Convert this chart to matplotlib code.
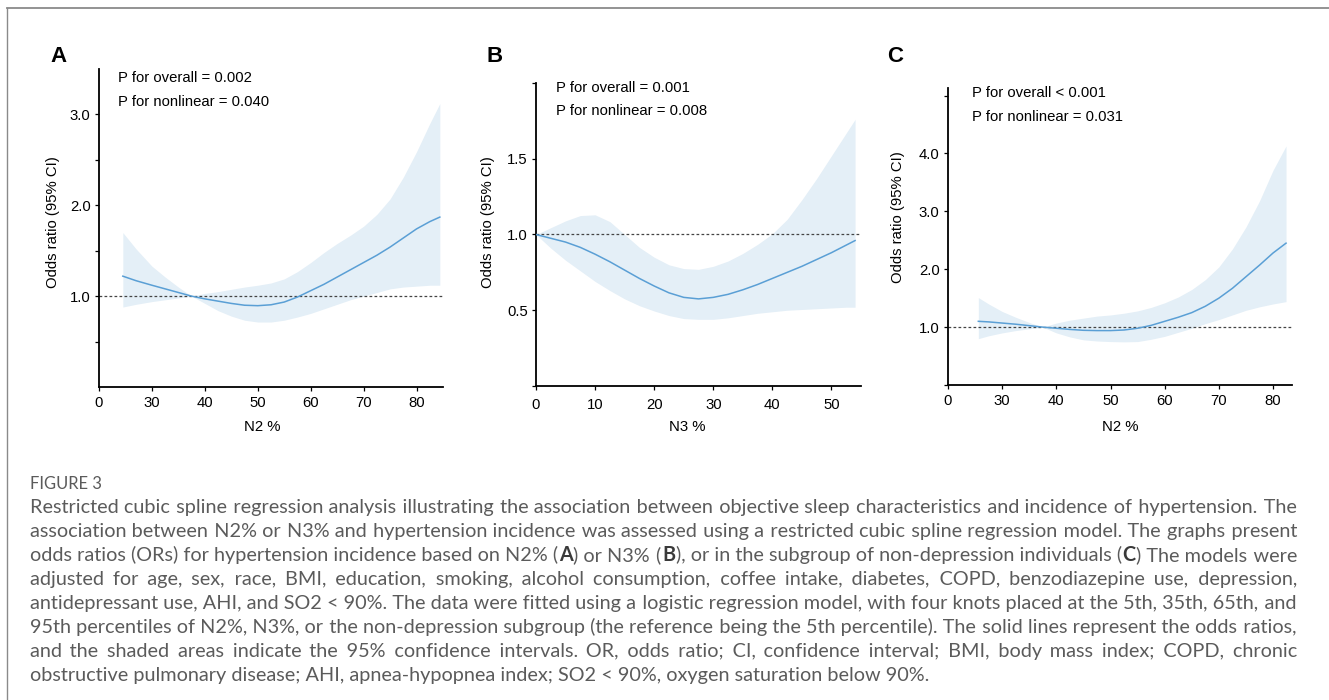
import matplotlib
matplotlib.use('Agg')
import matplotlib.pyplot as plt
from matplotlib.lines import Line2D

# ---------------- data ----------------
a_x  = [24.5, 27, 30, 32.5, 35, 37.5, 40, 42.5, 45, 47.5, 50, 52.5, 55, 57.5, 60,
        62.5, 65, 67.5, 70, 72.5, 75, 77.5, 80, 82.5, 84.4]
a_or = [1.22, 1.17, 1.12, 1.08, 1.04, 1.00, 0.97, 0.945, 0.92, 0.90, 0.895, 0.905, 0.935, 0.99, 1.06,
        1.13, 1.21, 1.29, 1.37, 1.45, 1.54, 1.64, 1.74, 1.82, 1.87]
a_lo = [0.88, 0.91, 0.94, 0.96, 0.98, 1.00, 0.92, 0.84, 0.78, 0.735, 0.715, 0.715, 0.735, 0.77, 0.81,
        0.86, 0.91, 0.96, 1.00, 1.04, 1.08, 1.10, 1.11, 1.12, 1.12]
a_hi = [1.70, 1.52, 1.33, 1.21, 1.10, 1.00, 1.03, 1.05, 1.075, 1.10, 1.12, 1.145, 1.19, 1.27, 1.37,
        1.48, 1.58, 1.67, 1.77, 1.90, 2.07, 2.31, 2.59, 2.90, 3.12]

b_x  = [0, 2.5, 5, 7.5, 10, 12.5, 15, 17.5, 20, 22.5, 25, 27.5, 30, 32.5, 35, 37.5,
        40, 42.5, 45, 47.5, 50, 52.5, 54]
b_or = [1.0, 0.975, 0.95, 0.915, 0.87, 0.82, 0.765, 0.71, 0.66, 0.615, 0.585, 0.575, 0.585, 0.605, 0.635, 0.67,
        0.71, 0.75, 0.79, 0.835, 0.88, 0.93, 0.96]
b_lo = [1.0, 0.91, 0.83, 0.76, 0.69, 0.63, 0.575, 0.53, 0.495, 0.465, 0.445, 0.44, 0.44, 0.45, 0.465, 0.48,
        0.49, 0.50, 0.505, 0.51, 0.515, 0.52, 0.52]
b_hi = [1.0, 1.045, 1.09, 1.125, 1.13, 1.085, 1.00, 0.915, 0.85, 0.80, 0.775, 0.77, 0.79, 0.825, 0.875, 0.935,
        1.005, 1.10, 1.23, 1.37, 1.52, 1.67, 1.76]

c_x  = [25.6, 27.5, 30, 32.5, 35, 37.5, 40, 42.5, 45, 47.5, 50, 52.5, 55, 57.5, 60,
        62.5, 65, 67.5, 70, 72.5, 75, 77.5, 80, 82.4]
c_or = [1.10, 1.09, 1.07, 1.05, 1.025, 1.00, 0.98, 0.96, 0.945, 0.94, 0.94, 0.95, 0.98, 1.03, 1.10,
        1.17, 1.25, 1.36, 1.50, 1.67, 1.87, 2.07, 2.28, 2.45]
c_lo = [0.80, 0.85, 0.90, 0.94, 0.97, 1.00, 0.90, 0.83, 0.78, 0.76, 0.75, 0.745, 0.75, 0.79, 0.84,
        0.91, 0.98, 1.06, 1.13, 1.21, 1.29, 1.35, 1.40, 1.44]
c_hi = [1.51, 1.40, 1.27, 1.17, 1.08, 1.00, 1.07, 1.12, 1.155, 1.19, 1.21, 1.24, 1.28, 1.34, 1.42,
        1.52, 1.65, 1.82, 2.04, 2.35, 2.73, 3.18, 3.71, 4.13]

a_xticks = [20, 30, 40, 50, 60, 70, 80]
a_xticklabels = ['0', '30', '40', '50', '60', '70', '80']
a_yticks = [0.5, 1.0, 1.5, 2.0, 2.5, 3.0]
a_yticklabels = ['', '1.0', '', '2.0', '', '3.0']

b_xticks = [0, 10, 20, 30, 40, 50]
b_xticklabels = ['0', '10', '20', '30', '40', '50']
b_yticks = [0.0, 0.5, 1.0, 1.5, 2.0]
b_yticklabels = ['', '0.5', '1.0', '1.5', '']

c_xticks = [20, 30, 40, 50, 60, 70, 80]
c_xticklabels = ['0', '30', '40', '50', '60', '70', '80']
c_yticks = [0.0, 1.0, 2.0, 3.0, 4.0, 5.0]
c_yticklabels = ['', '1.0', '2.0', '3.0', '4.0', '']

panel_letters = ['A', 'B', 'C']
p_texts = [['P for overall = 0.002', 'P for nonlinear = 0.040'],
           ['P for overall = 0.001', 'P for nonlinear = 0.008'],
           ['P for overall < 0.001', 'P for nonlinear = 0.031']]
x_labels = ['N2 %', 'N3 %', 'N2 %']
y_label = 'Odds ratio (95% CI)'

fig_label = 'FIGURE 3'
caption_lines = [
    "Restricted cubic spline regression analysis illustrating the association between objective sleep characteristics and incidence of hypertension. The",
    "association between N2% or N3% and hypertension incidence was assessed using a restricted cubic spline regression model. The graphs present",
    "odds ratios (ORs) for hypertension incidence based on N2% (**A**) or N3% (**B**), or in the subgroup of non-depression individuals (**C**) The models were",
    "adjusted for age, sex, race, BMI, education, smoking, alcohol consumption, coffee intake, diabetes, COPD, benzodiazepine use, depression,",
    "antidepressant use, AHI, and SO2\u00a0<\u00a090%. The data were fitted using a logistic regression model, with four knots placed at the 5th, 35th, 65th, and",
    "95th percentiles of N2%, N3%, or the non-depression subgroup (the reference being the 5th percentile). The solid lines represent the odds ratios,",
    "and the shaded areas indicate the 95% confidence intervals. OR, odds ratio; CI, confidence interval; BMI, body mass index; COPD, chronic",
    "obstructive pulmonary disease; AHI, apnea-hypopnea index; SO2\u00a0<\u00a090%, oxygen saturation below 90%.",
]

# ---------------- styling / layout ----------------
W, H = 1329, 700
plt.rcParams['font.family'] = ['Liberation Sans', 'DejaVu Sans']
fig = plt.figure(figsize=(W / 100, H / 100), dpi=100)
fig.patch.set_facecolor('white')

def fx(px):
    return px / W

def fy(py):
    return 1 - py / H

LINE_C = '#5a9fd5'
FILL_C = '#e4eff7'
FS = 10.7

# figure frame
fig.add_artist(Line2D([fx(7), 1.0], [fy(8), fy(8)], color='#8a8a8a', lw=1.3))
fig.add_artist(Line2D([fx(7), fx(7)], [fy(8), 0.0], color='#8a8a8a', lw=1.0))

panels = [
    dict(x=a_x, o=a_or, lo=a_lo, hi=a_hi, box=(99, 443, 69, 387), xlim=(20, 85), ylim=(0, 3.5),
         xt=a_xticks, xtl=a_xticklabels, yt=a_yticks, ytl=a_yticklabels, xpad=3.5,
         letter=(58, 57), ptxt=(118, 78, 102), xl=(262, 427), yl=(53, 222)),
    dict(x=b_x, o=b_or, lo=b_lo, hi=b_hi, box=(536, 861, 83, 386), xlim=(0, 55), ylim=(0, 2.0),
         xt=b_xticks, xtl=b_xticklabels, yt=b_yticks, ytl=b_yticklabels, xpad=6,
         letter=(495, 56), ptxt=(556, 88, 111), xl=(687, 427), yl=(488, 222)),
    dict(x=c_x, o=c_or, lo=c_lo, hi=c_hi, box=(948, 1292, 88, 385), xlim=(20, 83.5), ylim=(0, 5.13),
         xt=c_xticks, xtl=c_xticklabels, yt=c_yticks, ytl=c_yticklabels, xpad=3.5,
         letter=(895, 56), ptxt=(972, 93, 117), xl=(1120, 427), yl=(898, 217)),
]

for i, p in enumerate(panels):
    l, r, t, b = p['box']
    ax = fig.add_axes([fx(l), fy(b), (r - l) / W, (b - t) / H])
    ax.set_facecolor('none')
    ax.fill_between(p['x'], p['lo'], p['hi'], color=FILL_C, lw=0, zorder=1)
    ax.plot(p['x'], p['o'], color=LINE_C, lw=1.1, zorder=3)
    ax.axhline(1.0, color='#444444', lw=0.9, ls=(0, (2.2, 1.8)), zorder=2)
    ax.set_xlim(*p['xlim'])
    ax.set_ylim(*p['ylim'])
    ax.set_xticks(p['xt'])
    ax.set_xticklabels(p['xtl'])
    ax.set_yticks(p['yt'])
    ax.set_yticklabels(p['ytl'])
    for s in ['top', 'right']:
        ax.spines[s].set_visible(False)
    for s in ['left', 'bottom']:
        ax.spines[s].set_linewidth(1.3)
        ax.spines[s].set_color('black')
    ax.tick_params(axis='both', direction='out', length=3, width=0.9, labelsize=FS,
                   colors='black')
    ax.tick_params(axis='y', pad=3)
    ax.tick_params(axis='x', pad=p['xpad'])

    lx, ly = p['letter']
    fig.text(fx(lx), fy(ly), panel_letters[i], fontsize=16, fontweight='bold',
             ha='center', va='center')
    px, py1, py2 = p['ptxt']
    fig.text(fx(px), fy(py1), p_texts[i][0], fontsize=FS, ha='left', va='center')
    fig.text(fx(px), fy(py2), p_texts[i][1], fontsize=FS, ha='left', va='center')
    xlx, xly = p['xl']
    fig.text(fx(xlx), fy(xly), x_labels[i], fontsize=FS, ha='center', va='center')
    ylx, yly = p['yl']
    fig.text(fx(ylx), fy(yly), y_label, fontsize=FS, ha='center', va='center',
             rotation=90)

# ---------------- caption (justified with hair spaces) ----------------
renderer = fig.canvas.get_renderer()
CAP_FONT = ['Lato', 'DejaVu Sans']
CAP_C = '#5b5b5b'
HAIR = '\u200a'

def twidth(s, size, weight='normal'):
    t = fig.text(0, 0, s, fontsize=size, family=CAP_FONT, fontweight=weight)
    w = t.get_window_extent(renderer).width
    t.remove()
    return w

def advance(s, size, weight='normal'):
    return twidth(s + 'n', size, weight) - twidth('n', size, weight) + 0.6

def chunks(line):
    parts = line.replace('\u00a0', ' ').split('**')
    return [(s, 'bold' if k % 2 else 'normal') for k, s in enumerate(parts) if s]

def total_width(chs, size):
    w = 0.0
    for s, wt in chs[:-1]:
        w += advance(s, size, wt)
    s, wt = chs[-1]
    return w + twidth(s, size, wt)

LEFT, RIGHT = 30, 1297
widest = max(total_width(chunks(ln), 12.0) for ln in caption_lines[:-1])
cap_size = 12.0 * (RIGHT - LEFT) / widest * 0.996

fig_size = 10.0 * 71 / twidth(fig_label, 10.0)
fig.text(fx(LEFT), fy(489), fig_label, fontsize=fig_size, family=CAP_FONT,
         color=CAP_C, ha='left', va='baseline')

hair_w = (twidth('a' + HAIR * 10 + 'a', cap_size) - twidth('aa', cap_size)) / 10.0

def build(chs, n_extra):
    # spread n_extra hair spaces over all inter-word gaps of the line
    gaps = max(1, sum(s.count(' ') for s, _ in chs))
    out, g = [], 0
    for s, wt in chs:
        words = s.split(' ')
        txt = words[0]
        for w in words[1:]:
            k = (g + 1) * n_extra // gaps - g * n_extra // gaps
            txt += ' ' + HAIR * k + w
            g += 1
        out.append((txt, wt))
    return out

for li, line in enumerate(caption_lines):
    chs = chunks(line)
    base = 513 + 24 * li
    if li < len(caption_lines) - 1 and hair_w > 0.2:
        n = max(0, int(round((RIGHT - LEFT - total_width(chs, cap_size)) / hair_w)))
        built = build(chs, n)
        for _ in range(2):
            diff = (RIGHT - LEFT) - total_width(built, cap_size)
            n = max(0, n + int(round(diff / hair_w)))
            built = build(chs, n)
    else:
        built = chs
    x = LEFT
    for s, wt in built:
        fig.text(fx(x), fy(base), s, fontsize=cap_size, family=CAP_FONT,
                 fontweight=wt, color=CAP_C if wt == 'normal' else '#3a3a3a',
                 ha='left', va='baseline')
        x += advance(s, cap_size, wt)

fig.savefig('out.png', dpi=100, facecolor='white')
